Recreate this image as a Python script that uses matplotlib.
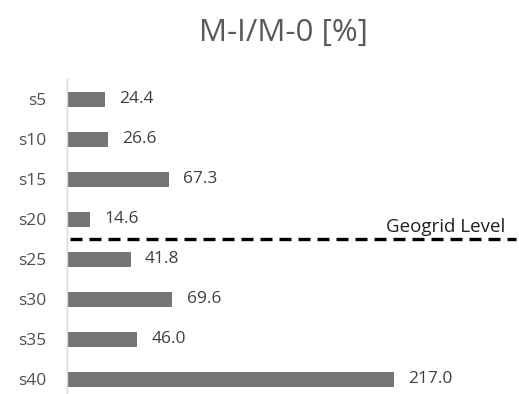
import matplotlib
matplotlib.use("Agg")
import matplotlib.pyplot as plt

categories = ["s5", "s10", "s15", "s20", "s25", "s30", "s35", "s40"]
values = [24.4, 26.6, 67.3, 14.6, 41.8, 69.6, 46.0, 217.0]
title = "M-I/M-0 [%]"
geogrid_label = "Geogrid Level"
geogrid_pos = 3.5  # between s20 and s25

plt.rcParams['font.family'] = ['Open Sans', 'DejaVu Sans']

W, H = 519, 394
fig = plt.figure(figsize=(W / 100, H / 100), dpi=100)
fig.patch.set_facecolor("white")

left_px, right_px, top_px, bottom_px = 67, 517, 78, 394
ax = fig.add_axes([left_px / W, 1 - bottom_px / H, (right_px - left_px) / W, (bottom_px - top_px) / H])

y = list(range(len(categories)))
ax.barh(y, values, height=0.35, color="#777777", edgecolor="#666666", linewidth=0.6)

ax.set_xlim(0, 300)
ax.set_ylim(7.375, -0.525)
ax.set_yticks(y)
ax.set_yticklabels(categories, fontsize=12.5, color="#505050")
ax.tick_params(axis="y", length=0, pad=15)
ax.set_xticks([])
for s in ["top", "right", "bottom"]:
    ax.spines[s].set_visible(False)
ax.spines["left"].set_color("#d9d9d9")
ax.spines["left"].set_linewidth(1.0)

for yi, v in zip(y, values):
    ax.annotate(f"{v:.1f}", xy=(v, yi), xytext=(11, 0), textcoords="offset points",
                va="center", ha="left", fontsize=12.5, color="#404040")

ax.plot([2, 299], [geogrid_pos, geogrid_pos], color="black", linestyle=(0, (3.6, 2.1)),
        linewidth=2.4, clip_on=False)
ax.text(292, geogrid_pos - 0.18, geogrid_label, ha="right", va="baseline",
        fontsize=13.5, color="#202020")

fig.text(283 / W, 1 - 33 / H, title, ha="center", va="center", fontsize=22.5, color="#595959")

fig.savefig("out.png", dpi=100)
